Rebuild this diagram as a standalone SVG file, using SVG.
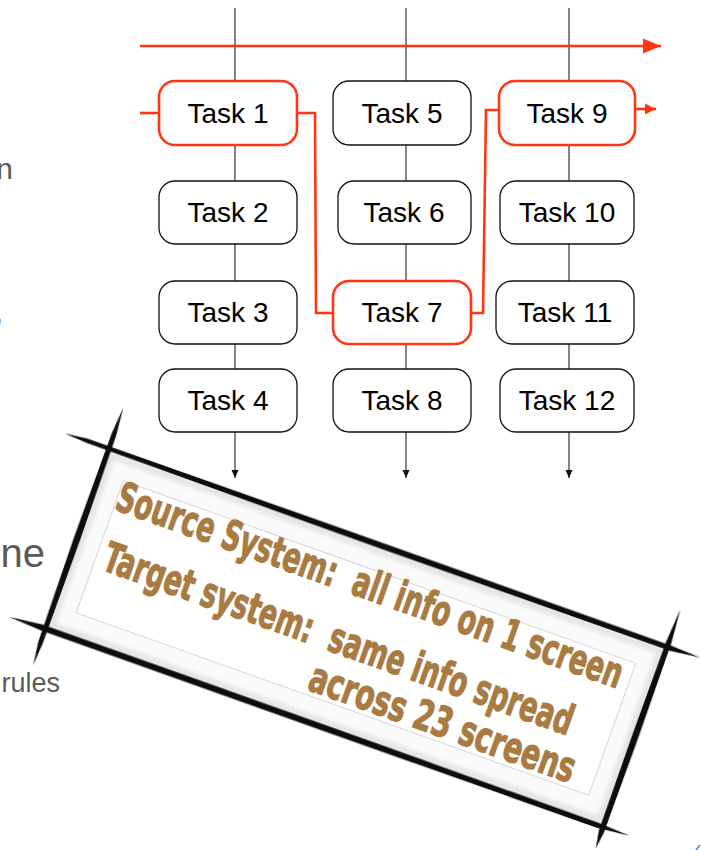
<svg xmlns="http://www.w3.org/2000/svg" width="701" height="850" viewBox="0 0 701 850">
<style>
.box{fill:#fff;stroke:#111;stroke-width:1.3}
.rbox{fill:#fff;stroke:#ff3513;stroke-width:2.6}
.lbl{font-family:"Liberation Sans",Arial,sans-serif;font-size:28px;fill:#000;text-anchor:middle}
.vl{stroke:#333;stroke-width:1.2;fill:none}
.rl{stroke:#ff3513;stroke-width:2.6;fill:none}
.side{font-family:"Liberation Sans",Arial,sans-serif;fill:#5a5a5a;text-anchor:end}
.note{font-family:"Liberation Sans Narrow","DejaVu Sans Condensed","Liberation Sans",sans-serif;font-weight:bold;font-size:42px;fill:#a97b42;stroke:#a97b42;stroke-width:1.1;white-space:pre}
.brush{fill:#0a0a0a}
.halo{stroke:#b0b0b0;stroke-opacity:0.3;stroke-width:7;fill:none}
</style>
<defs>
<marker id="ab" markerUnits="userSpaceOnUse" markerWidth="8" markerHeight="8" refX="8" refY="4" orient="auto"><path d="M0,0.5 L8,4 L0,7.5 Z" fill="#111"/></marker>
<marker id="arBig" markerUnits="userSpaceOnUse" markerWidth="19" markerHeight="16" refX="18" refY="8" orient="auto"><path d="M0,0.5 L18,8 L0,15.5 Z" fill="#ff3513"/></marker>
<marker id="arSm" markerUnits="userSpaceOnUse" markerWidth="12" markerHeight="12" refX="11" refY="6" orient="auto"><path d="M0,0.5 L11,6 L0,11.5 Z" fill="#ff3513"/></marker>
<filter id="soft" x="-5%" y="-50%" width="110%" height="200%"><feGaussianBlur stdDeviation="0.7"/></filter>
<filter id="blur3" x="-5%" y="-50%" width="110%" height="200%"><feGaussianBlur stdDeviation="2"/></filter>
</defs>

<g id="side-text">
<text class="side" x="13" y="179" font-size="30">n</text>
<text class="side" x="3" y="322" font-size="30">,</text>
<text class="side" x="45" y="567" font-size="40">ne</text>
<text class="side" x="60" y="692" font-size="27">rules</text>
</g>

<g id="connectors">
<line class="vl" x1="235" y1="8" x2="235" y2="478" marker-end="url(#ab)"/>
<line class="vl" x1="406" y1="8" x2="406" y2="478" marker-end="url(#ab)"/>
<line class="vl" x1="569" y1="8" x2="569" y2="478" marker-end="url(#ab)"/>
<line class="rl" x1="140" y1="46" x2="661" y2="46" stroke-width="3.6" marker-end="url(#arBig)"/>
<line class="rl" x1="140" y1="113" x2="159" y2="113"/>
<polyline class="rl" points="297,113 315,113 316,313 333,313"/>
<polyline class="rl" points="471,313 483,313 486,110 499,110"/>
<line class="rl" x1="635" y1="109" x2="656" y2="109" marker-end="url(#arSm)"/>
</g>

<g id="task1"><rect class="rbox" x="159" y="81" width="138" height="64" rx="16"/><text class="lbl" x="228" y="123">Task 1</text></g>
<g id="task2"><rect class="box" x="159" y="181" width="138" height="63" rx="16"/><text class="lbl" x="228" y="222">Task 2</text></g>
<g id="task3"><rect class="box" x="159" y="281" width="138" height="63" rx="16"/><text class="lbl" x="228" y="322">Task 3</text></g>
<g id="task4"><rect class="box" x="159" y="369" width="138" height="63" rx="16"/><text class="lbl" x="228" y="410">Task 4</text></g>
<g id="task5"><rect class="box" x="333" y="81" width="138" height="64" rx="16"/><text class="lbl" x="402" y="123">Task 5</text></g>
<g id="task6"><rect class="box" x="338" y="181" width="133" height="63" rx="16"/><text class="lbl" x="404" y="222">Task 6</text></g>
<g id="task7"><rect class="rbox" x="333" y="281" width="138" height="63" rx="16"/><text class="lbl" x="402" y="322">Task 7</text></g>
<g id="task8"><rect class="box" x="333" y="369" width="138" height="63" rx="16"/><text class="lbl" x="402" y="410">Task 8</text></g>
<g id="task9"><rect class="rbox" x="499" y="81" width="136" height="64" rx="16"/><text class="lbl" x="567" y="123">Task 9</text></g>
<g id="task10"><rect class="box" x="500" y="181" width="134" height="63" rx="16"/><text class="lbl" x="567" y="222">Task 10</text></g>
<g id="task11"><rect class="box" x="496" y="281" width="138" height="63" rx="16"/><text class="lbl" x="565" y="322">Task 11</text></g>
<g id="task12"><rect class="box" x="500" y="369" width="134" height="63" rx="16"/><text class="lbl" x="567" y="410">Task 12</text></g>

<g id="note" transform="translate(356,638) rotate(19.6)">
<rect x="-296" y="-95" width="592" height="190" fill="#fafafa"/>
<g filter="url(#blur3)">
<rect x="-291" y="-90" width="582" height="180" class="halo"/>
</g>
<rect x="-272" y="-70" width="544" height="140" fill="#fff" stroke="#d6d6d6" stroke-width="1"/>
<g filter="url(#soft)">
<polygon class="brush" points="-343,-95 -320,-97.8 0,-98.6 300,-98.6 331,-97 300,-93.2 0,-92.4 -320,-93.4"/>
<polygon class="brush" points="-296.5,-139 -293.8,-110 -292.8,0 -293.3,110 -295,134 -298,110 -299.4,0 -298.8,-110"/>
<polygon class="brush" points="-334,96.5 -300,92.6 0,92.2 290,92.8 324,94.5 290,98 0,98.4 -300,98.4"/>
<polygon class="brush" points="296,-136 298.8,-100 299.4,0 298.8,100 296.5,118 293.4,100 292.8,0 293.4,-100"/>
</g>
<text class="note" x="-272" y="-40" textLength="535" lengthAdjust="spacingAndGlyphs">Source System:  all info on 1 screen</text>
<text class="note" x="-264" y="21" textLength="496" lengthAdjust="spacingAndGlyphs">Target system:  same info spread</text>
<text class="note" x="-30" y="65" textLength="280" lengthAdjust="spacingAndGlyphs">across 23 screens</text>
</g>

<line x1="696" y1="850" x2="700" y2="845" stroke="#3d8fe0" stroke-width="1.5"/>
</svg>
